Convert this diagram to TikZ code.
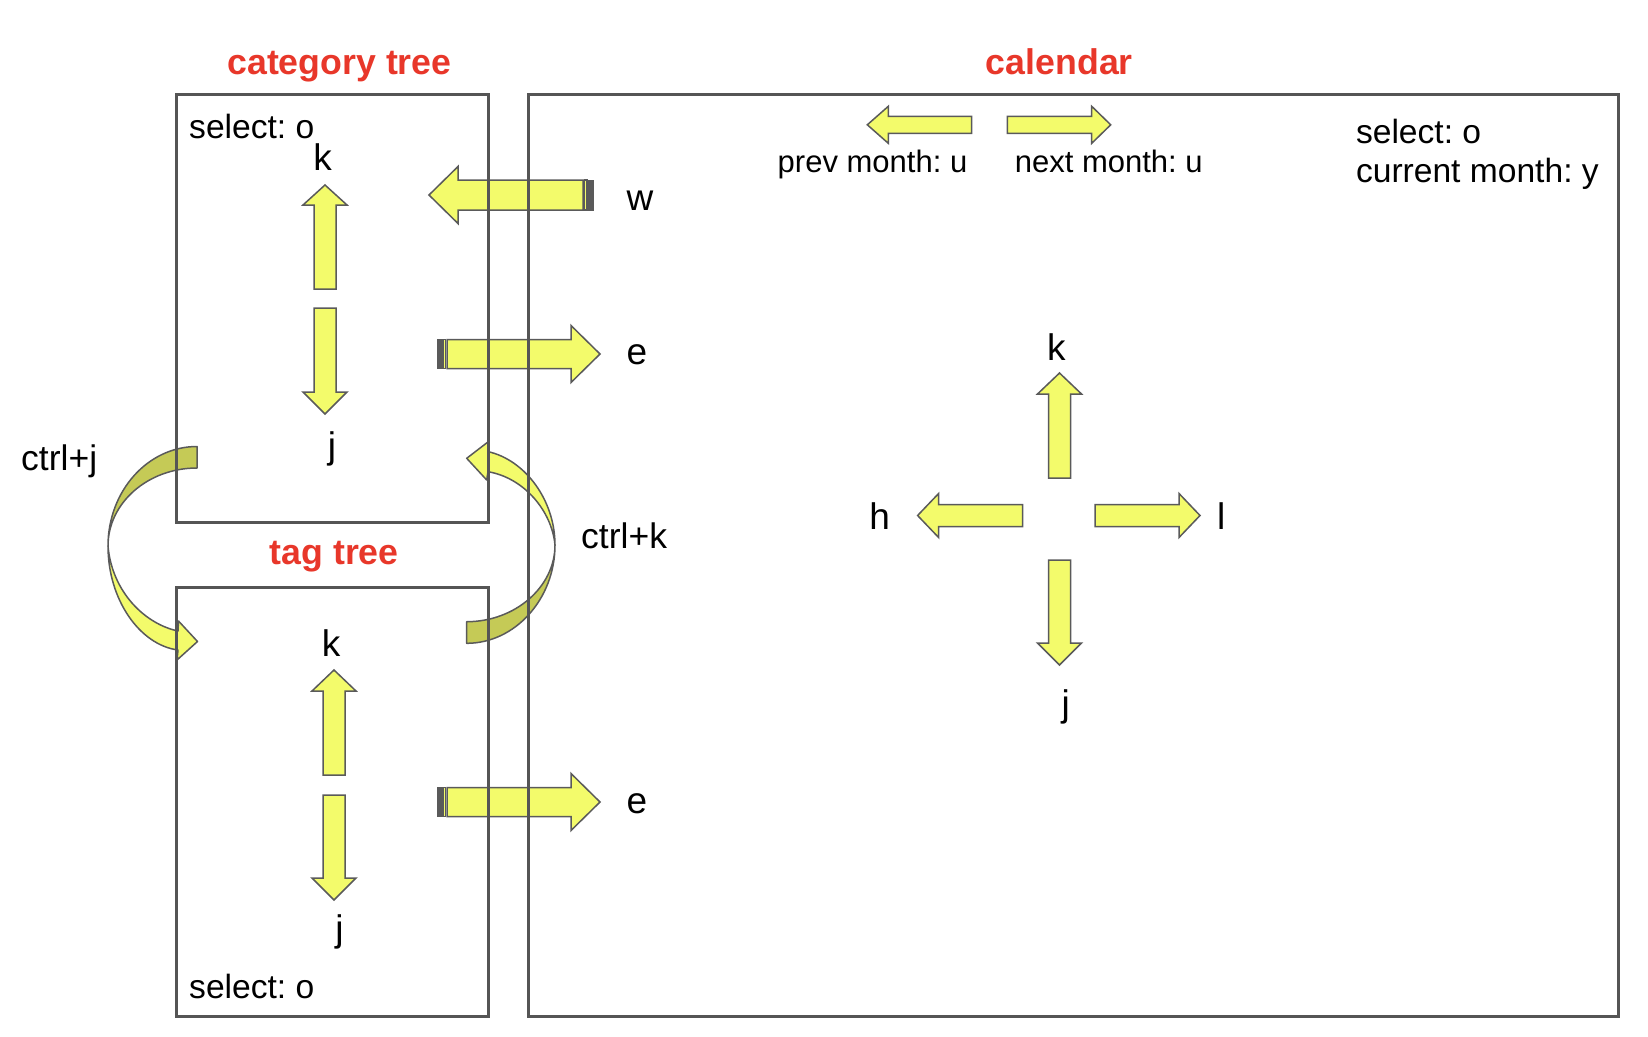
\documentclass[tikz,border=0pt]{standalone}
\usepackage{fontspec}
\setmainfont{Liberation Sans}
\definecolor{ayel}{HTML}{F3FB6B}
\definecolor{aolive}{HTML}{C5CA56}
\definecolor{agray}{HTML}{5A5A5A}
\definecolor{edge}{HTML}{555555}
\definecolor{tred}{HTML}{E8372A}
\tikzset{
  lbl/.style={inner sep=0pt, font=\fontsize{33.6}{40}\selectfont},
  keyl/.style={inner sep=0pt, font=\fontsize{37}{44}\selectfont},
  ttl/.style={inner sep=0pt, anchor=base, text=tred, font=\fontsize{35.7}{42}\selectfont\bfseries},
  smalll/.style={inner sep=0pt, anchor=base, font=\fontsize{31}{36}\selectfont},
  ctl/.style={inner sep=0pt, font=\fontsize{35.5}{42}\selectfont},
  panel/.style={draw=edge, line width=3pt},
  arrowbox/.style={fill=ayel, draw=agray, line width=1.5pt, line join=miter},
  curvebox/.style={draw=agray, line width=1.5pt, line join=round},
}
% x, y (tail centre), angle, length, shaft half, head half, head length
\newcommand\blkarrow[7]{\draw[arrowbox, shift={(#1,#2)}, rotate=#3] (0,-#5) -- ({#4-#7},-#5) -- ({#4-#7},-#6) -- (#4,0) -- ({#4-#7},#6) -- ({#4-#7},#5) -- (0,#5) -- cycle;}
% striped tail: x, y (tail centre), angle, shaft half
\newcommand\tailstripes[4]{\begin{scope}[shift={(#1,#2)}, rotate=#3]
  \draw[arrowbox] (-1.5,-#4) rectangle (-4,#4);
  \draw[draw=agray, fill=agray, line width=1pt] (-4,-#4) rectangle (-10,#4);
\end{scope}}
\begin{document}
\frenchspacing
\begin{tikzpicture}[x=1pt,y=-1pt]
\useasboundingbox (0,0) rectangle (1648,1036);

% ---- category tree arrows
\blkarrow{325}{289}{90}{104}{11}{22}{20}
\blkarrow{325}{308}{-90}{106}{11}{22}{22}
% ---- tag tree arrows
\blkarrow{334}{775}{90}{105}{11}{22}{21}
\blkarrow{334}{795}{-90}{105}{11}{22}{22}
% ---- w / e arrows
\blkarrow{583}{195}{180}{154}{15}{28.5}{29}
\tailstripes{583}{195}{180}{15}
\blkarrow{447}{354}{0}{153}{14.5}{28.5}{29}
\tailstripes{447}{354}{0}{14.5}
\blkarrow{447}{802}{0}{153}{14.5}{28.5}{29}
\tailstripes{447}{802}{0}{14.5}
% ---- month arrows
\blkarrow{971.7}{124.8}{180}{104.4}{8.5}{18.5}{21}
\blkarrow{1007.3}{124.8}{0}{103.4}{8.5}{18.5}{19}
% ---- calendar cross
\blkarrow{1059.5}{478}{90}{105}{11}{22}{21}
\blkarrow{1059.5}{560}{-90}{105}{11}{22}{22}
\blkarrow{1022.6}{515.5}{180}{105}{11}{22}{21}
\blkarrow{1095}{515.5}{0}{105}{11}{22}{21}

% ---- curved arrow ctrl+j (left)
\draw[curvebox, fill=aolive] (197,446.5) .. controls (147.8,446.5) and (108,491) .. (108,546)
  .. controls (108,503) and (147.8,468) .. (197,468) -- cycle;
\draw[curvebox, fill=ayel] (108,546) .. controls (108,600) and (140,645) .. (178,650)
  -- (177,660) -- (197.5,641.5) -- (178.5,621) -- (178,631)
  .. controls (145,624) and (112,592) .. (108,546) -- cycle;
% ---- curved arrow ctrl+k (right)
\draw[curvebox, fill=aolive] (555,545) .. controls (555,599) and (515,643.3) .. (466.7,643.3)
  -- (466.7,621.7) .. controls (515,621.7) and (555,587) .. (555,545) -- cycle;
\draw[curvebox, fill=ayel] (466.7,458.3) -- (488.3,441.7) -- (488.3,451.7)
  .. controls (525,460) and (555,500) .. (555,545)
  .. controls (552,512) and (525,478) .. (488,471.7) -- (486.7,480) -- cycle;

% ---- panels
\draw[panel] (176,94) rectangle (488,522.5);
\draw[panel] (176,587) rectangle (488,1016.5);
\draw[panel] (528,94) rectangle (1618.5,1016.5);

% ---- titles
\node[ttl] (tcat) at (339.5,74) {category tree};
\node[ttl] (tcal) at (1059.4,74) {calendar};
\node[ttl] (ttag) at (334.2,564.5) {tag tree};

% ---- texts
\node[lbl, anchor=base west] (selcat) at (189,138.3) {select: o};
\node[lbl, anchor=base west] (seltag) at (189,998.2) {select: o};
\node[lbl, anchor=base west] (selcal) at (1355.8,143.8) {select: o};
\node[lbl, anchor=base west] (curm) at (1355.8,182.5) {current month: y};
\node[smalll] (prevm) at (872.5,172) {prev month: u};
\node[smalll] (nextm) at (1108.8,172) {next month: u};

\node[keyl] (catk) at (322.7,156.6) {k};
\node[keyl] (catj) at (332,448.8) {j};
\node[keyl] (tagk) at (331,643.2) {k};
\node[keyl] (tagj) at (339.5,932.3) {j};
\node[keyl] (kw) at (640,200.7) {w};
\node[keyl] (ke1) at (637,355) {e};
\node[keyl] (ke2) at (637,804) {e};
\node[keyl] (calk) at (1056.3,346.8) {k};
\node[keyl] (calj) at (1065.7,707.3) {j};
\node[keyl] (calh) at (879.7,516) {h};
\node[keyl] (call) at (1221.3,516) {l};

\node[ctl, anchor=base west] (cj) at (21,470) {ctrl+j};
\node[ctl, anchor=base west] (ck) at (581,548.4) {ctrl+k};
\end{tikzpicture}
\end{document}
